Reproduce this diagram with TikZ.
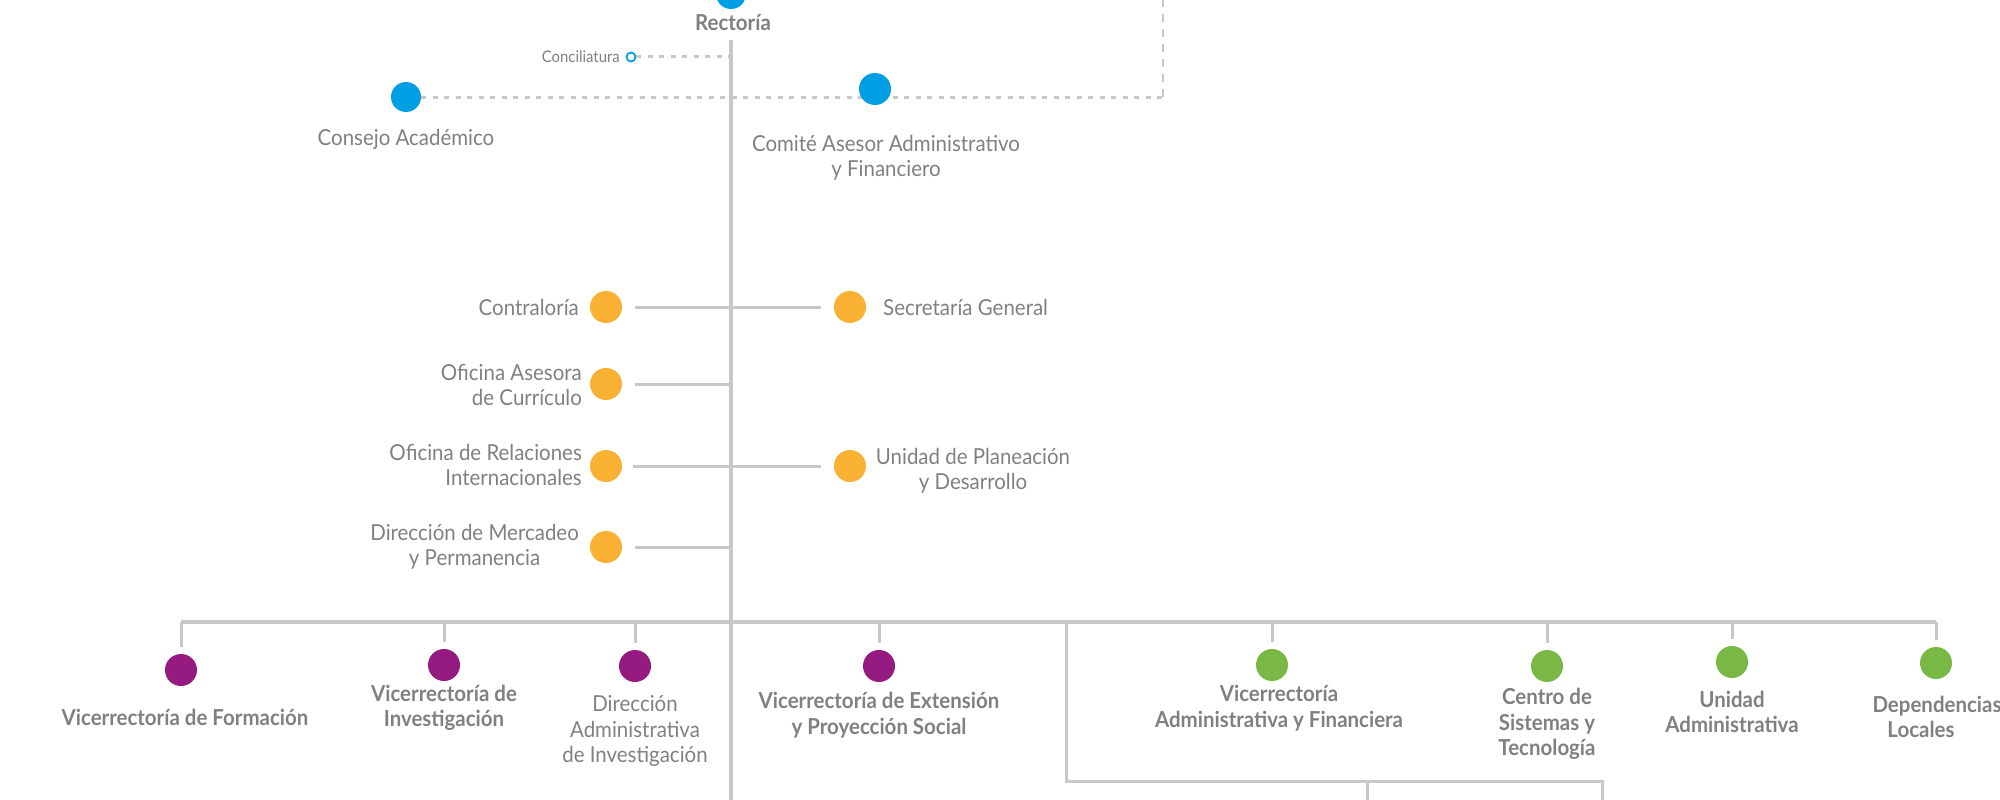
\documentclass[tikz,border=0pt]{standalone}
\usepackage{fontspec}
\setmainfont{Lato}[FakeStretch=0.93]
\definecolor{cblue}{HTML}{009FE3}
\definecolor{corange}{HTML}{F8B133}
\definecolor{cpurple}{HTML}{951B81}
\definecolor{cgreen}{HTML}{7AB846}
\definecolor{lgray}{HTML}{C8C8C8}
\definecolor{tgray}{HTML}{808080}
\begin{document}
\begin{tikzpicture}[x=1pt,y=-1pt,
  dot/.style={circle,inner sep=0pt,minimum size=30pt},
  bdot/.style={dot,fill=cblue},
  odot/.style={dot,fill=corange},
  pdot/.style={dot,fill=cpurple},
  gdot/.style={dot,fill=cgreen},
  lbl/.style={text=tgray,inner sep=0pt,align=center,font=\fontsize{22}{25.5}\selectfont},
  blbl/.style={lbl,font=\fontsize{22}{25.5}\selectfont\bfseries},
  solid line/.style={draw=lgray,line width=3.5pt},
  thin line/.style={draw=lgray,line width=3pt},
  dotline/.style={draw=lgray,line width=3pt,dash pattern=on 5pt off 6.5pt},
  dashline/.style={draw=lgray,line width=2.5pt,dash pattern=on 8pt off 7pt}]
\useasboundingbox (0,0) rectangle (2000,800);

% top
\node[bdot] (rect) at (731,-6) {};
\node[blbl] (rectl) at (733,23) {Rectoría};
\coordinate (vtop) at (731,40);
\coordinate (vbot) at (731,800);
\node[bdot] (consejo) at (406,97) {};
\coordinate (cornerR) at (1163,97);
\coordinate (topR) at (1163,0);
\node[circle,draw=cblue,line width=1.8pt,inner sep=0pt,minimum size=9pt] (conc) at (631,57) {};
\coordinate (concV) at (731,57);
\node[lbl,font=\fontsize{16}{18}\selectfont,anchor=east] (concl) at (620,57) {Conciliatura};
\draw[dotline] (conc) -- (concV);
\draw[dotline] (consejo) -- (cornerR);
\draw[dashline] (cornerR) -- (topR);
\node[bdot,minimum size=32pt] (comite) at (875,89) {};
\node[lbl] (consejol) at (406,139) {Consejo Académico};
\node[lbl] (comitel) at (886,158) {Comité Asesor Administrativo\\y Financiero};

% main spine
\draw[solid line] (vtop) -- (vbot);

% orange
\node[odot,minimum size=32pt] (contra) at (606,307) {};
\node[odot,minimum size=32pt] (secre) at (850,307) {};
\node[odot,minimum size=32pt] (ofase) at (606,384) {};
\node[odot,minimum size=32pt] (ofrel) at (606,466) {};
\node[odot,minimum size=32pt] (unipl) at (850,466) {};
\node[odot,minimum size=32pt] (dirme) at (606,547) {};
\coordinate (ofaseV) at (731,384);
\coordinate (dirmeV) at (731,547);
\draw[thin line] ([xshift=13pt]contra.east) -- ([xshift=-13pt]secre.west);
\draw[thin line] ([xshift=13pt]ofase.east) -- (ofaseV);
\draw[thin line] ([xshift=11pt]ofrel.east) -- ([xshift=-13pt]unipl.west);
\draw[thin line] ([xshift=13pt]dirme.east) -- (dirmeV);
\node[lbl,anchor=east] (contral) at (579,307) {Contraloría};
\node[lbl,anchor=west] (secrel) at (883,307) {Secretaría General};
\node[lbl,anchor=east,align=right] (ofasel) at (582,385) {Oficina Asesora\\de Currículo};
\node[lbl,anchor=east,align=right] (ofrell) at (582,465) {Oficina de Relaciones\\Internacionales};
\node[lbl] (unipll) at (973,471) {Unidad de Planeación\\y Desarrollo};
\node[lbl,anchor=east,align=center] (dirmel) at (579,547) {Dirección de Mercadeo\\y Permanencia};

% bottom bus
\coordinate (busL) at (181,622);
\coordinate (busR) at (1936,622);
\draw[solid line] (busL) -- (busR);
\coordinate (bus2a) at (1066,622);
\coordinate (bus2b) at (1066,781);
\coordinate (bus2c) at (1602,781);
\coordinate (bus2d) at (1367,781);
\coordinate (bus2e) at (1367,800);
\coordinate (bus2f) at (1602,800);
\draw[thin line] (bus2a) -- (bus2b) -- (bus2c) -- (bus2f);
\draw[thin line] (bus2d) -- (bus2e);

\foreach \n/\x/\y/\s in {vfor/181/670/pdot, vinv/444/665/pdot, dinv/635/666/pdot, vext/879/666/pdot,
  vadm/1272/665/gdot, csis/1547/666/gdot, uadm/1732/662/gdot, dloc/1936/663/gdot}{
  \node[\s,minimum size=32pt] (\n) at (\x,\y) {};
  \coordinate (\n-top) at (\x,622);
  \draw[thin line] (\n-top) -- ([yshift=7pt]\n.north);
}

\node[blbl] (vforl) at (185,717) {Vicerrectoría de Formación};
\node[blbl] (vinvl) at (444,708) {Vicerrectoría de\\Investigación};
\node[lbl] (dinvl) at (635,731) {Dirección\\Administrativa\\de Investigación};
\node[blbl] (vextl) at (879,715) {Vicerrectoría de Extensión\\y Proyección Social};
\node[blbl] (vadml) at (1279,708) {Vicerrectoría\\Administrativa y Financiera};
\node[blbl] (csisl) at (1547,724) {Centro de\\Sistemas y\\Tecnología};
\node[blbl] (uadml) at (1732,712) {Unidad\\Administrativa};
\node[blbl] (dlocl) at (1937,717) {Dependencias\\Locales\hspace{32pt}\mbox{}};
\end{tikzpicture}
\end{document}
